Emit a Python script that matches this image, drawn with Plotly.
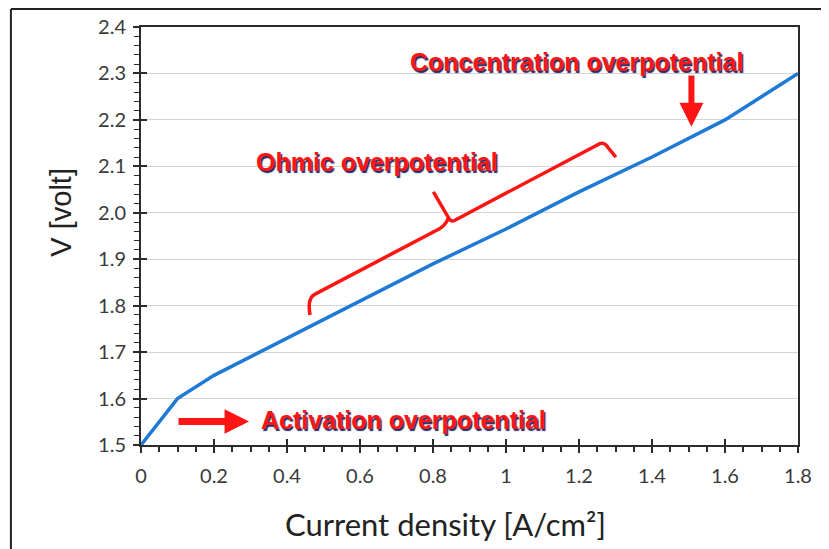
import plotly.graph_objects as go

# Data
current_density = [0.0, 0.1, 0.2, 0.4, 0.6, 0.8, 1.0, 1.2, 1.4, 1.6, 1.8]
voltage = [1.50, 1.60, 1.65, 1.73, 1.81, 1.89, 1.965, 2.045, 2.12, 2.20, 2.30]

x_ticks = [0, 0.2, 0.4, 0.6, 0.8, 1, 1.2, 1.4, 1.6, 1.8]
x_tick_labels = ["0", "0.2", "0.4", "0.6", "0.8", "1", "1.2", "1.4", "1.6", "1.8"]
y_ticks = [1.5, 1.6, 1.7, 1.8, 1.9, 2.0, 2.1, 2.2, 2.3, 2.4]
y_tick_labels = ["1.5", "1.6", "1.7", "1.8", "1.9", "2.0", "2.1", "2.2", "2.3", "2.4"]

labels = ["Concentration overpotential", "Ohmic overpotential", "Activation overpotential"]

RED = "#ff1414"
SHADOW = "1.5px 1.5px 1px #1c2a66"
AXIS = "#2b2b2b"
TICKFONT = dict(family="Lato, Liberation Sans, sans-serif", size=20, color="#3a3a3a")

fig = go.Figure()
fig.add_trace(go.Scatter(x=current_density, y=voltage, mode="lines",
                         line=dict(color="#1f7ad6", width=3.5),
                         showlegend=False, hoverinfo="skip"))
# invisible trace for the overlay axes (inner half of crossing ticks)
fig.add_trace(go.Scatter(x=current_density, y=voltage, mode="lines", xaxis="x2", yaxis="y2",
                         line=dict(color="rgba(0,0,0,0)", width=0), showlegend=False, hoverinfo="skip"))

fig.update_layout(
    template="none",
    width=821, height=541,
    margin=dict(l=133, r=31, t=19, b=104, autoexpand=False),
    paper_bgcolor="white", plot_bgcolor="white",
    xaxis=dict(range=[0, 1.8], tickmode="array", tickvals=x_ticks, ticktext=x_tick_labels,
               ticks="outside", ticklen=6, tickwidth=1.5, tickcolor=AXIS, automargin=False,
               minor=dict(dtick=0.05, tick0=0, ticks="outside", ticklen=5, tickwidth=1.5, tickcolor=AXIS, showgrid=False),
               showline=True, linecolor=AXIS, linewidth=2, mirror=True,
               showgrid=False, zeroline=False, tickfont=TICKFONT, ticklabelstandoff=6),
    yaxis=dict(range=[1.5, 2.4], tickmode="array", tickvals=y_ticks, ticktext=y_tick_labels,
               ticks="outside", ticklen=6, tickwidth=1.5, tickcolor=AXIS, automargin=False,
               minor=dict(dtick=0.02, tick0=1.5, ticks="outside", ticklen=5, tickwidth=1.2, tickcolor=AXIS, showgrid=False),
               showline=True, linecolor=AXIS, linewidth=2, mirror=True,
               showgrid=True, gridcolor="#d4d4d4", gridwidth=1, zeroline=False, tickfont=TICKFONT,
               ticklabelstandoff=3),
    xaxis2=dict(range=[0, 1.8], overlaying="x", anchor="y2", tickmode="array", tickvals=x_ticks,
                ticks="inside", ticklen=6, tickwidth=1.5, tickcolor=AXIS, showticklabels=False,
                showgrid=False, zeroline=False, showline=False, automargin=False),
    yaxis2=dict(range=[1.5, 2.4], overlaying="y", anchor="x2", tickmode="array", tickvals=y_ticks,
                ticks="inside", ticklen=6, tickwidth=1.5, tickcolor=AXIS, showticklabels=False,
                showgrid=False, zeroline=False, showline=False, automargin=False),
    showlegend=False,
)

# Axis titles
fig.add_annotation(xref="paper", yref="paper", x=0.463, y=-0.19, text="Current density [A/cm²]",
                   showarrow=False, font=dict(family="Lato, Liberation Sans, sans-serif", size=31, color="#222"),
                   xanchor="center", yanchor="middle")
fig.add_annotation(xref="paper", yref="paper", x=-0.121, y=0.557, text="V [volt]", textangle=-90,
                   showarrow=False, font=dict(family="Liberation Sans, Arial, sans-serif", size=29, color="#222"),
                   xanchor="center", yanchor="middle")

# Labels
lab_font = dict(family="Liberation Sans, Arial, sans-serif", size=25, color=RED, weight="bold", shadow=SHADOW)
fig.add_annotation(x=1.194, y=2.325, text=labels[0], showarrow=False, font=lab_font, xanchor="center", yanchor="middle")
fig.add_annotation(x=0.646, y=2.109, text=labels[1], showarrow=False, font=lab_font, xanchor="center", yanchor="middle")
fig.add_annotation(x=0.718, y=1.554, text=labels[2], showarrow=False, font=lab_font, xanchor="center", yanchor="middle")

# Arrows
fig.add_annotation(x=1.508, y=2.185, ax=1.508, ay=2.299, axref="x", ayref="y", text="",
                   showarrow=True, arrowhead=2, arrowsize=0.8, arrowwidth=6, arrowcolor=RED)
fig.add_annotation(x=0.296, y=1.5505, ax=0.0986, ay=1.5505, axref="x", ayref="y", text="",
                   showarrow=True, arrowhead=2, arrowsize=0.7, arrowwidth=7, arrowcolor=RED)

# Curly brace
brace = ("M 0.463,1.780 Q 0.455,1.818 0.477,1.825 L 0.819,1.966 Q 0.838,1.976 0.842,1.990 "
         "L 0.801,2.045 M 0.842,1.990 Q 0.848,1.979 0.860,1.984 L 1.250,2.146 "
         "Q 1.268,2.156 1.280,2.140 L 1.301,2.120")
fig.add_shape(type="path", path=brace, xref="x", yref="y", line=dict(color=RED, width=3.5))

# Outer frame (left and top edges of the picture border)
fig.add_shape(type="line", xref="paper", yref="paper", x0=-0.198, y0=-0.4, x1=-0.198, y1=1.043,
              line=dict(color="#222", width=2), layer="below")
fig.add_shape(type="line", xref="paper", yref="paper", x0=-0.198, y0=1.043, x1=1.2, y1=1.043,
              line=dict(color="#222", width=2), layer="below")

fig.write_html("out.html")
